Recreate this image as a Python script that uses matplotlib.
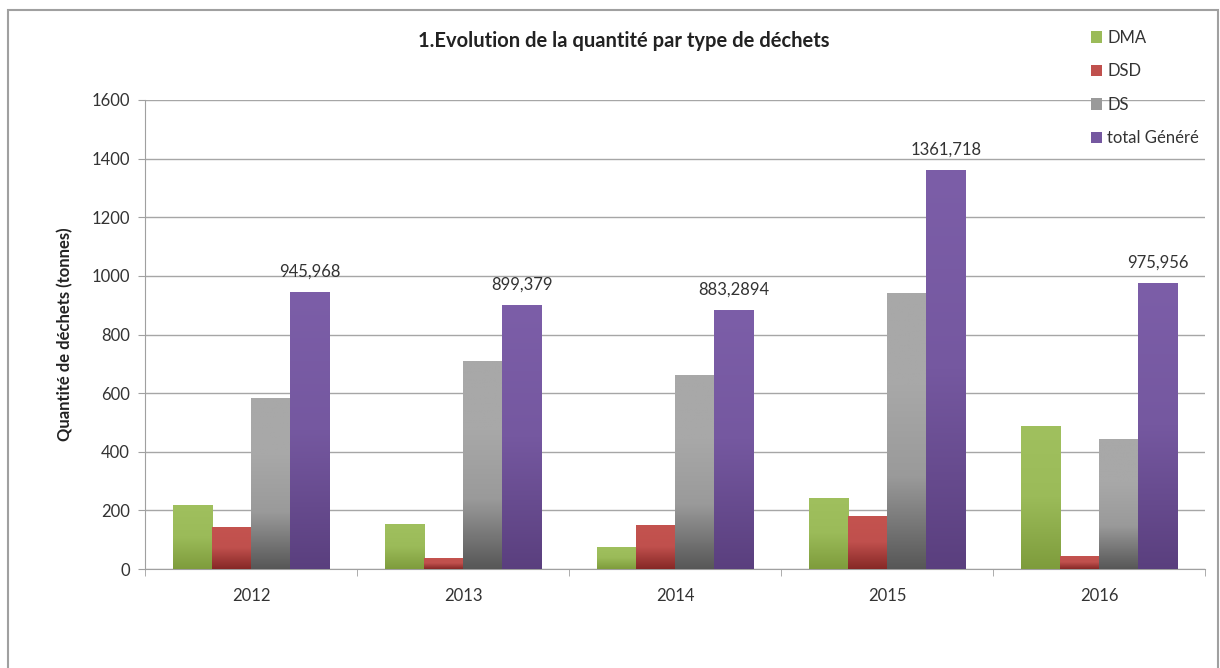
import matplotlib.pyplot as plt
import numpy as np
from matplotlib.colors import LinearSegmentedColormap
from matplotlib.patches import Rectangle, Patch

plt.rcParams['font.family'] = ['Lato', 'DejaVu Sans']

years = ['2012', '2013', '2014', '2015', '2016']
dma = [219, 153, 76, 243, 488]
dsd = [144, 39, 151, 181, 45]
ds = [582, 710, 662, 942, 443]
total = [945.968, 899.379, 883.2894, 1361.718, 975.956]
total_labels = ['945,968', '899,379', '883,2894', '1361,718', '975,956']

series = [
    ('DMA', dma, ['#7e9c3c', '#9bbb59', '#a0c05e']),
    ('DSD', dsd, ['#862826', '#c0504d', '#c4534f']),
    ('DS', ds, ['#575757', '#9a9a9a', '#a8a8a8', '#a8a8a8']),
    ('total Généré', total, ['#5a3f7e', '#7558a0', '#7c5ea8']),
]

fig = plt.figure(figsize=(12.2, 6.68), dpi=100)
ax = fig.add_axes([145 / 1220, 1 - 569 / 668, 1060 / 1220, 469 / 668])

# outer chart border
fig.patches.append(Rectangle((8 / 1220, -0.1), 1210 / 1220, 1.1 - 10 / 668,
                             transform=fig.transFigure, fill=False,
                             edgecolor='#a0a0a0', linewidth=1.5))

w = 0.185
x = np.arange(len(years))
handles = []
for i, (name, vals, cols) in enumerate(series):
    cmap = LinearSegmentedColormap.from_list(name, cols)
    bars = ax.bar(x + (i - 1.5) * w, vals, w, color='none', edgecolor='none', zorder=3)
    for b in bars:
        x0, y0 = b.get_x(), b.get_y()
        bw, bh = b.get_width(), b.get_height()
        grad = np.linspace(0, 1, 256).reshape(-1, 1)
        im = ax.imshow(grad, cmap=cmap, origin='lower', aspect='auto',
                       extent=[x0, x0 + bw, y0, y0 + bh], zorder=3)
        im.set_clip_path(b)
    handles.append(Patch(facecolor=cols[1], label=name))

for xi, v, lab in zip(x, total, total_labels):
    ax.text(xi + 1.5 * w, v + 42, lab, ha='center', va='bottom',
            fontsize=12, color='#333333', zorder=4)

ax.set_xlim(-0.5, 4.5)
ax.set_ylim(0, 1600)
ax.set_yticks(range(0, 1601, 200))
ax.set_xticks(x)
ax.set_xticklabels(years)
ax.set_xticks(np.arange(-0.5, 4.6, 1), minor=True)
ax.tick_params(axis='x', which='major', length=0, pad=14, labelsize=12, colors='#333333')
ax.tick_params(axis='x', which='minor', length=5, color='#a0a0a0', direction='out')
ax.tick_params(axis='y', length=5, color='#a0a0a0', labelcolor='#333333', labelsize=12, pad=6)
ax.grid(axis='y', color='#a6a6a6', linewidth=1, zorder=0)
ax.set_axisbelow(True)
for s in ['top', 'right']:
    ax.spines[s].set_visible(False)
for s in ['left', 'bottom']:
    ax.spines[s].set_color('#a0a0a0')

ax.set_ylabel('Quantité de déchets (tonnes)', fontsize=12, fontweight='bold',
              color='#222222', labelpad=13)
fig.text(624 / 1220, 1 - 41 / 668, '1.Evolution de la quantité par type de déchets',
         ha='center', va='center', fontsize=14.5, fontweight='bold', color='#222222')

leg = fig.legend(handles=handles, loc='upper left', bbox_to_anchor=(1084 / 1220, 1 - 23 / 668),
                 frameon=False, fontsize=12, handlelength=0.7, handleheight=0.7,
                 handletextpad=0.3, labelspacing=1.05, borderaxespad=0)
for t in leg.get_texts():
    t.set_color('#333333')

fig.savefig('out.png', dpi=100)
